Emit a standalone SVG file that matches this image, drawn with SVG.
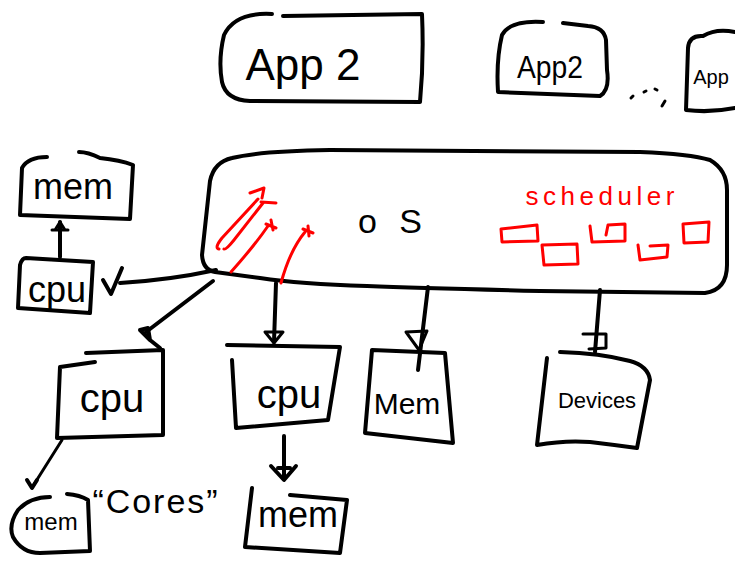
<svg xmlns="http://www.w3.org/2000/svg" width="735" height="563" viewBox="0 0 735 563">
  <style>
    .ink { fill: none; stroke: #000; stroke-width: 4; stroke-linecap: round; stroke-linejoin: round; }
    .thin { fill: none; stroke: #000; stroke-width: 3; stroke-linecap: round; stroke-linejoin: round; }
    .red { fill: none; stroke: #ff0000; stroke-width: 3; stroke-linecap: round; stroke-linejoin: round; }
    .lbl { font-family: "Liberation Sans", "DejaVu Sans", sans-serif; fill: #000; text-anchor: middle; }
    .rlbl { font-family: "Liberation Sans", "DejaVu Sans", sans-serif; fill: #ff0000; text-anchor: middle; }
  </style>
  <rect width="735" height="563" fill="#fff"/>

  <!-- applications -->
  <g id="app1">
    <path class="ink" d="M 272 14 Q 235 12 224 35 Q 218 60 222 82 Q 226 100 250 101 L 420 102 Q 424 60 422 14 L 283 16"/>
    <text class="lbl" x="303" y="80" font-size="44">App 2</text>
  </g>
  <g id="app2">
    <path class="ink" d="M 543 22 Q 510 20 502 35 Q 496 60 498 92 L 600 96 Q 610 90 607 70 L 606 40 Q 604 27 588 26 L 563 23"/>
    <text class="lbl" x="550" y="78" font-size="32" textLength="66" lengthAdjust="spacingAndGlyphs">App2</text>
  </g>
  <g id="app3">
    <path class="ink" d="M 735 32 Q 716 28 703 36 Q 689 35 688 48 L 686 110 Q 710 113 735 108"/>
    <text class="lbl" x="711" y="84" font-size="20">App</text>
  </g>
  <g id="ellipsis">
    <path class="thin" d="M 631 98 L 633 96 M 644 92 L 646 91 M 655 89 L 657 90 M 665 101 L 662 106"/>
  </g>

  <!-- operating system -->
  <g id="os">
    <path class="ink" d="M 210 181 Q 214 162 232 158 Q 260 151 330 150 L 640 152 Q 690 154 710 160 Q 727 170 727 190 L 727 265 Q 727 290 705 293 L 540 291 Q 420 288 367 286 Q 300 284 260 278 Q 230 274 215 272 Q 203 270 202 255 Z"/>
    <text class="lbl" x="390" y="233" font-size="34" textLength="64" lengthAdjust="spacing">o S</text>
    <!-- red annotations -->
    <path class="red" d="M 219 249 Q 214 248 222 238 L 258 199 M 224 249 Q 226 250 234 240 L 263 203"/>
    <path class="red" d="M 250 193 L 264 188 L 262 198 M 261 202 L 276 203"/>
    <path class="red" d="M 231 272 Q 255 245 268 226 M 266 224 L 276 228 M 271 220 L 273 230"/>
    <path class="red" d="M 281 283 Q 290 250 305 232 M 303 229 L 313 233 M 308 226 L 309 236"/>
    <text class="rlbl" x="600" y="205" font-size="26" textLength="149" lengthAdjust="spacing">scheduler</text>
    <path class="red" d="M 501 229 L 537 225 L 538 241 L 502 242 Z"/>
    <path class="red" d="M 542 245 L 577 244 L 578 264 L 544 265 Z"/>
    <path class="red" d="M 590 226 L 592 242 L 625 241 L 625 224 L 608 225 L 606 235"/>
    <path class="red" d="M 638 245 L 640 260 L 667 257 L 668 245 L 650 246"/>
    <path class="red" d="M 683 224 L 709 222 L 708 242 L 684 243 Z"/>
  </g>

  <!-- memory and processor on the left -->
  <g id="mem-top">
    <path class="ink" d="M 47 157 Q 28 157 22 168 L 20 215 L 130 219 L 133 165 Q 120 160 100 158 Q 88 152 79 152"/>
    <text class="lbl" x="73" y="199" font-size="36">mem</text>
  </g>
  <g id="cpu-left">
    <path class="ink" d="M 26 258 Q 22 258 20 265 L 18 308 L 90 313 L 93 262 Q 60 260 26 258 Z"/>
    <text class="lbl" x="57" y="302" font-size="36">cpu</text>
  </g>

  <!-- processors, memory and devices below -->
  <g id="cpu1">
    <path class="ink" d="M 95 362 L 60 367 L 57 438 L 163 435 L 163 350 L 86 353"/>
    <text class="lbl" x="112" y="412" font-size="40">cpu</text>
  </g>
  <g id="cpu2">
    <path class="ink" d="M 227 345 L 340 347 L 328 420 L 236 428 L 232 360"/>
    <text class="lbl" x="289" y="408" font-size="40">cpu</text>
  </g>
  <g id="mem-main">
    <path class="ink" d="M 372 350 L 445 353 L 453 443 L 365 433 Z"/>
    <text class="lbl" x="407" y="414" font-size="30">Mem</text>
  </g>
  <g id="devices">
    <path class="ink" d="M 547 358 L 537 445 Q 565 440 590 442 Q 615 445 637 448 L 650 380 Q 648 366 630 361 Q 600 353 560 352"/>
    <text class="lbl" x="597" y="408" font-size="22">Devices</text>
  </g>
  <g id="mem-cpu1">
    <path class="ink" d="M 50 497 Q 30 497 18 510 Q 8 525 13 537 Q 22 553 40 553 L 90 551 L 88 500 Q 80 495 67 494"/>
    <text class="lbl" x="51" y="530" font-size="24">mem</text>
  </g>
  <g id="mem-cpu2">
    <path class="ink" d="M 252 488 L 245 547 L 340 553 L 347 500 L 290 495"/>
    <text class="lbl" x="298" y="527" font-size="36">mem</text>
  </g>
  <g id="cores-note">
    <text class="lbl" x="155" y="513" font-size="34" textLength="125" lengthAdjust="spacing">“Cores”</text>
  </g>

  <!-- connectors -->
  <g id="connectors">
    <!-- cpu (left) to its memory -->
    <path class="ink" d="M 60 257 L 60 222"/>
    <path class="thin" d="M 52 230 L 68 230 M 55 230 L 60 222 L 65 230"/>
    <!-- OS to cpu (left) -->
    <path class="ink" d="M 216 270 Q 170 280 120 283"/>
    <path class="ink" d="M 103 280 L 111 294 L 122 268"/>
    <!-- OS to cpu 1 -->
    <path class="ink" d="M 213 281 L 146 332"/>
    <path class="ink" d="M 140 330 L 150 340 L 148 328 Z M 150 340 L 160 348"/>
    <!-- cpu 1 to its memory -->
    <path class="thin" d="M 62 440 L 33 486"/>
    <path class="ink" d="M 27 480 L 32 488 L 37 480"/>
    <!-- OS to cpu 2 -->
    <path class="ink" d="M 276 283 L 274 342"/>
    <path class="thin" d="M 265 332 L 283 332 L 274 343 Z"/>
    <!-- cpu 2 to its memory -->
    <path class="ink" d="M 284 436 L 284 478"/>
    <path class="ink" d="M 271 466 L 284 480 L 296 466 M 278 468 L 290 468"/>
    <!-- OS to main memory -->
    <path class="ink" d="M 428 287 L 418 370"/>
    <path class="thin" d="M 406 332 L 427 331 L 419 350 Z"/>
    <!-- OS to devices -->
    <path class="ink" d="M 600 290 L 595 352"/>
    <path class="thin" d="M 583 334 L 606 334 L 606 348 L 589 349"/>
  </g>
</svg>
